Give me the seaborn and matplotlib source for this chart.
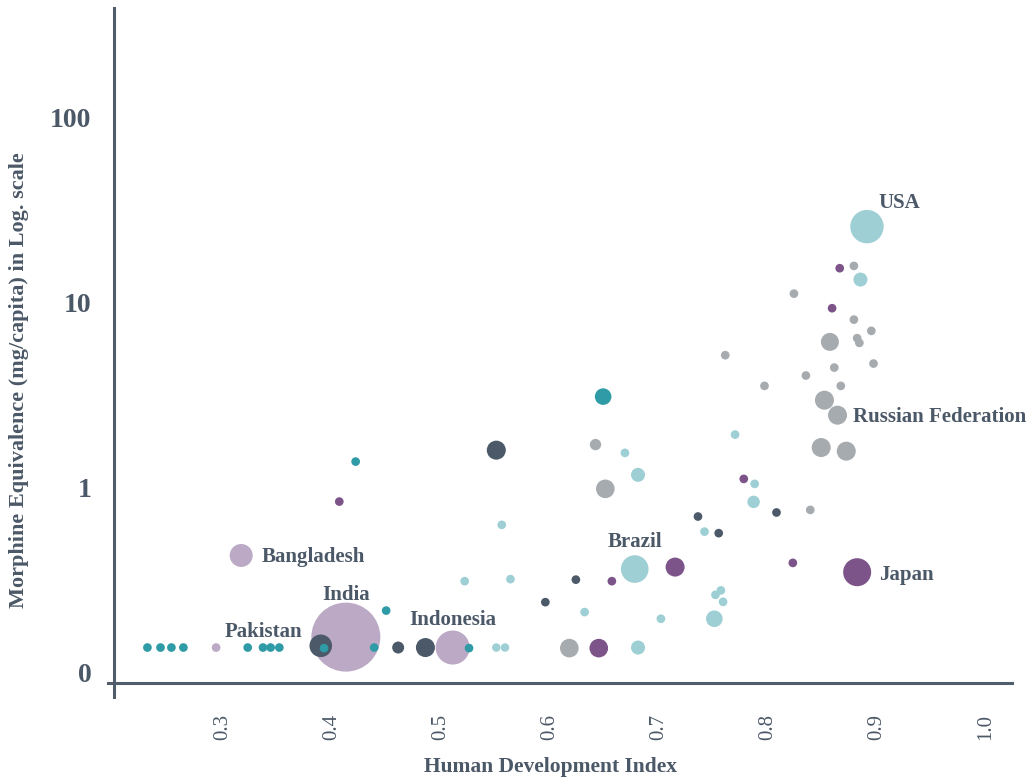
import numpy as np
import pandas as pd
import seaborn as sns
import matplotlib.pyplot as plt
from matplotlib.ticker import FixedLocator, NullLocator

# ----------------------------
# Data
# ----------------------------
hdi = [0.231, 0.243, 0.253, 0.264, 0.294, 0.323, 0.337, 0.344, 0.352, 0.390,
       0.393, 0.413, 0.439, 0.450, 0.461, 0.486, 0.511, 0.526, 0.551, 0.559,
       0.422, 0.407, 0.317, 0.649, 0.551, 0.642, 0.669, 0.681, 0.651, 0.556,
       0.770, 0.778, 0.788, 0.787, 0.736, 0.742, 0.755, 0.678, 0.715, 0.522,
       0.564, 0.624, 0.657, 0.596, 0.632, 0.702, 0.752, 0.757, 0.759, 0.751,
       0.618, 0.645, 0.681, 0.866, 0.879, 0.885, 0.824, 0.859, 0.879, 0.895,
       0.857, 0.882, 0.884, 0.861, 0.897, 0.835, 0.797, 0.867, 0.852, 0.864,
       0.849, 0.872, 0.761, 0.891, 0.808, 0.839, 0.823, 0.882]

morphine = [0.137, 0.137, 0.137, 0.137, 0.137, 0.137, 0.137, 0.137, 0.137, 0.140,
            0.136, 0.156, 0.137, 0.217, 0.137, 0.137, 0.137, 0.136, 0.137, 0.137,
            1.387, 0.843, 0.431, 3.115, 1.599, 1.714, 1.546, 1.176, 0.988, 0.631,
            1.941, 1.118, 1.051, 0.840, 0.700, 0.580, 0.569, 0.364, 0.373, 0.313,
            0.321, 0.319, 0.313, 0.241, 0.213, 0.196, 0.264, 0.279, 0.242, 0.196,
            0.136, 0.136, 0.137, 15.40, 15.85, 13.37, 11.22, 9.36, 8.12, 7.06,
            6.155, 6.446, 6.08, 4.47, 4.70, 4.05, 3.56, 3.56, 2.979, 2.472,
            1.652, 1.579, 5.215, 25.85, 0.736, 0.760, 0.393, 0.350]

# population, millions (bubble size)
pop = [20, 20, 20, 20, 20, 20, 20, 20, 20, 135,
       20, 1263, 20, 20, 38, 96, 307, 20, 19, 19,
       20, 20, 140, 73, 96, 34, 20, 52, 92, 20,
       20, 20, 20, 41, 20, 20, 20, 202, 96, 20,
       20, 20, 20, 20, 20, 20, 20, 20, 20, 73,
       92, 92, 52, 20, 20, 52, 20, 20, 20, 20,
       86, 20, 20, 20, 20, 20, 20, 20, 96, 96,
       96, 96, 20, 296, 20, 20, 20, 208]

region = ["AFR", "AFR", "AFR", "AFR", "SEAR", "AFR", "AFR", "AFR", "AFR", "EMR",
          "AFR", "SEAR", "AFR", "AFR", "EMR", "EMR", "SEAR", "AFR", "AMR", "AMR",
          "AFR", "WPR", "SEAR", "AFR", "EMR", "EUR", "AMR", "AMR", "EUR", "AMR",
          "AMR", "WPR", "AMR", "AMR", "EMR", "AMR", "EMR", "AMR", "WPR", "AMR",
          "AMR", "EMR", "WPR", "EMR", "AMR", "AMR", "AMR", "AMR", "AMR", "AMR",
          "EUR", "WPR", "AMR", "WPR", "EUR", "AMR", "EUR", "WPR", "EUR", "EUR",
          "EUR", "EUR", "EUR", "EUR", "EUR", "EUR", "EUR", "EUR", "EUR", "EUR",
          "EUR", "EUR", "EUR", "AMR", "EMR", "EUR", "WPR", "WPR"]

country = [""] * len(hdi)
country[9] = "Pakistan"
country[11] = "India"
country[16] = "Indonesia"
country[22] = "Bangladesh"
country[37] = "Brazil"
country[69] = "Russian Federation"
country[73] = "USA"
country[77] = "Japan"

y_ticks = [0.1, 1, 10, 100]
y_tick_labels = ["0", "1", "10", "100"]
x_ticks = [0.3, 0.4, 0.5, 0.6, 0.7, 0.8, 0.9, 1.0]

palette = {
    "AFR": "#2f9ba6",
    "AMR": "#9dcfd4",
    "EUR": "#a6abb0",
    "WPR": "#7c5489",
    "SEAR": "#bca9c6",
    "EMR": "#4b5968",
}
TEXT = "#4b5867"
AXIS = "#505e6c"

df = pd.DataFrame({"hdi": hdi, "morphine": morphine, "pop": pop,
                   "region": region, "country": country})
# big bubbles first so the small ones stay visible on top
df = df.sort_values("pop", ascending=False, kind="stable")

# ----------------------------
# Plot
# ----------------------------
sns.set_style("white")
plt.rcParams["font.family"] = ["Liberation Serif", "DejaVu Serif"]

fig = plt.figure(figsize=(10.34, 7.78), dpi=100)
ax = fig.add_axes([0.1044, 0.1041, 0.8743, 0.8856])

sns.scatterplot(data=df, x="hdi", y="morphine", hue="region", size="pop",
                palette=palette, sizes=(0, 2468), size_norm=(0, 1263),
                linewidth=0, alpha=1, legend=False, ax=ax)

ax.set_yscale("log")
ax.set_xlim(0.1948, 1.024)
ax.set_ylim(0.074, 393)

for s in ["top", "right"]:
    ax.spines[s].set_visible(False)
ax.spines["left"].set_position(("data", 0.2))
ax.spines["bottom"].set_position(("data", 0.088))
for s in ["left", "bottom"]:
    ax.spines[s].set_color(AXIS)
    ax.spines[s].set_linewidth(2.2)

ax.xaxis.set_major_locator(FixedLocator(x_ticks))
ax.set_xticklabels([f"{v:.1f}" for v in x_ticks], rotation=90)
ax.yaxis.set_major_locator(FixedLocator(y_ticks))
ax.yaxis.set_minor_locator(NullLocator())
ax.set_yticklabels(y_tick_labels)

ax.tick_params(axis="x", direction="in", length=8, width=1.2, color="#7a8591",
               pad=22, labelsize=15, labelcolor=TEXT)
ax.tick_params(axis="y", direction="in", length=2, width=1, color=AXIS,
               pad=16, labelsize=20, labelcolor=TEXT)
for lab in ax.get_yticklabels():
    lab.set_fontweight("bold")

ax.set_xlabel("Human Development Index", fontsize=15.5, fontweight="bold",
              color=TEXT)
ax.set_ylabel("Morphine Equivalence (mg/capita) in Log. scale", fontsize=16,
              fontweight="bold", color=TEXT)
ax.xaxis.set_label_coords(0.49, -0.087)
ax.yaxis.set_label_coords(-0.087, 0.46)

# country labels: offset in points and alignment
label_pos = {
    "USA": ((8, 17), "left"),
    "Russian Federation": ((11, -1.5), "left"),
    "Japan": ((16, -2), "left"),
    "Brazil": ((0, 19.5), "center"),
    "Bangladesh": ((15, -1), "left"),
    "India": ((0, 30), "center"),
    "Pakistan": ((-41, 10), "center"),
    "Indonesia": ((0, 20), "center"),
}
for _, row in df[df["country"] != ""].iterrows():
    off, ha = label_pos[row["country"]]
    ax.annotate(row["country"], (row["hdi"], row["morphine"]),
                xytext=off, textcoords="offset points", ha=ha, va="center",
                fontsize=15, fontweight="bold", color=TEXT)

fig.savefig("out.png", dpi=100)
